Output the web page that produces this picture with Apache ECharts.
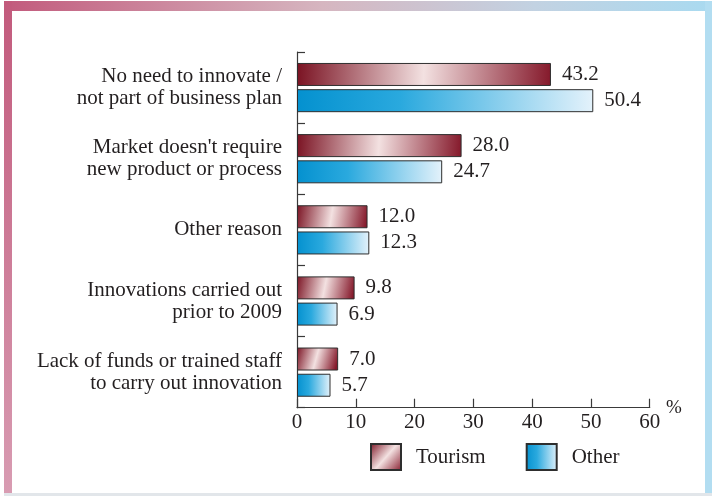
<!DOCTYPE html>
<html>
<head>
<meta charset="utf-8">
<script src="https://cdn.jsdelivr.net/npm/echarts@6/dist/echarts.min.js"></script>
<style>
  html, body { margin: 0; padding: 0; background: #ffffff; }
  #chart { width: 712px; height: 496px; }
</style>
</head>
<body>
<div id="chart"></div>
<script>
// Reasons for not innovating, share of enterprises (%)
const categories = [
  'No need to innovate /\nnot part of business plan',
  "Market doesn't require\nnew product or process",
  'Other reason',
  'Innovations carried out\nprior to 2009',
  'Lack of funds or trained staff\nto carry out innovation'
];
const tourism = [43.2, 28.0, 12.0, 9.8, 7.0];
const other = [50.4, 24.7, 12.3, 6.9, 5.7];
const seriesNames = ['Tourism', 'Other'];
const xTicks = { min: 0, max: 60, interval: 10 };

const FONT = 'Liberation Serif, Times New Roman, DejaVu Serif, serif';
const TEXT = '#231f20';
const AXIS = '#3a3a3a';

function redFill(dx, dy) {
  return new echarts.graphic.LinearGradient(0, 0, dx, dy, [
    { offset: 0, color: '#7a1222' },
    { offset: 0.5, color: '#f3e1e1' },
    { offset: 1, color: '#85192b' }
  ]);
}
function blueFill() {
  return new echarts.graphic.LinearGradient(0, 0, 1, 0, [
    { offset: 0, color: '#0491cf' },
    { offset: 0.35, color: '#2aa9de' },
    { offset: 1, color: '#e4f2fb' }
  ]);
}

const chart = echarts.init(document.getElementById('chart'), null, { renderer: 'canvas' });

const valueLabel = {
  show: true,
  position: 'right',
  distance: 11,
  fontFamily: FONT,
  fontSize: 21,
  color: TEXT,
  formatter: p => Number(p.value).toFixed(1)
};

chart.setOption({
  animation: false,
  backgroundColor: '#ffffff',
  textStyle: { fontFamily: FONT },
  graphic: [
    // soft frame around the panel
    {
      type: 'rect', z: -10, silent: true,
      shape: { x: 4, y: 1, width: 708, height: 10 },
      style: {
        fill: new echarts.graphic.LinearGradient(0, 0, 1, 0, [
          { offset: 0, color: '#c25a7c' },
          { offset: 0.45, color: '#d6b6c0' },
          { offset: 0.75, color: '#c2d2e2' },
          { offset: 1, color: '#a9daf0' }
        ])
      }
    },
    {
      type: 'rect', z: -10, silent: true,
      shape: { x: 4, y: 1, width: 8, height: 493 },
      style: {
        fill: new echarts.graphic.LinearGradient(0, 0, 0, 1, [
          { offset: 0, color: '#c25a7c' },
          { offset: 1, color: '#d89cb2' }
        ])
      }
    },
    {
      type: 'rect', z: -10, silent: true,
      shape: { x: 705, y: 1, width: 7, height: 493 },
      style: { fill: '#b2ddf1' }
    },
    {
      type: 'rect', z: -10, silent: true,
      shape: { x: 4, y: 493, width: 708, height: 3 },
      style: { fill: '#e2e6ea' }
    }
  ],
  legend: {
    left: 365,
    top: 438,
    itemWidth: 30,
    itemHeight: 26,
    itemGap: 40,
    icon: 'rect',
    data: seriesNames,
    textStyle: { fontFamily: FONT, fontSize: 21, color: TEXT, padding: [0, 0, 0, 10] }
  },
  grid: { left: 297, right: 62.3, top: 52, bottom: 88.3 },
  xAxis: {
    type: 'value',
    min: xTicks.min,
    max: xTicks.max,
    interval: xTicks.interval,
    name: '%',
    nameLocation: 'end',
    nameGap: 13,
    nameTextStyle: { fontFamily: FONT, fontSize: 19, color: TEXT, padding: [0, 0, 6, 0] },
    axisLine: { show: true, lineStyle: { color: AXIS, width: 1.2 } },
    axisTick: { show: true, inside: true, length: 9, lineStyle: { color: AXIS, width: 1.2 } },
    axisLabel: { margin: 4, fontFamily: FONT, fontSize: 21, color: TEXT },
    splitLine: { show: false }
  },
  yAxis: {
    type: 'category',
    inverse: true,
    data: categories,
    axisLine: { show: true, lineStyle: { color: AXIS, width: 1.2 } },
    axisTick: { show: true, inside: true, length: 8, lineStyle: { color: AXIS, width: 1.2 } },
    axisLabel: { margin: 15, fontFamily: FONT, fontSize: 21, lineHeight: 22, color: TEXT, align: 'right' }
  },
  series: [
    {
      name: seriesNames[0],
      type: 'bar',
      barWidth: 23,
      barGap: '14%',
      itemStyle: { color: redFill(1, 1), borderColor: '#2e2e2e', borderWidth: 1 },
      label: valueLabel,
      data: tourism.map(v => ({ value: v, itemStyle: { color: redFill(1, 0.5) } }))
    },
    {
      name: seriesNames[1],
      type: 'bar',
      barWidth: 23,
      barGap: '14%',
      itemStyle: { color: blueFill(), borderColor: '#2e2e2e', borderWidth: 1 },
      label: valueLabel,
      data: other
    }
  ]
});
</script>
</body>
</html>
